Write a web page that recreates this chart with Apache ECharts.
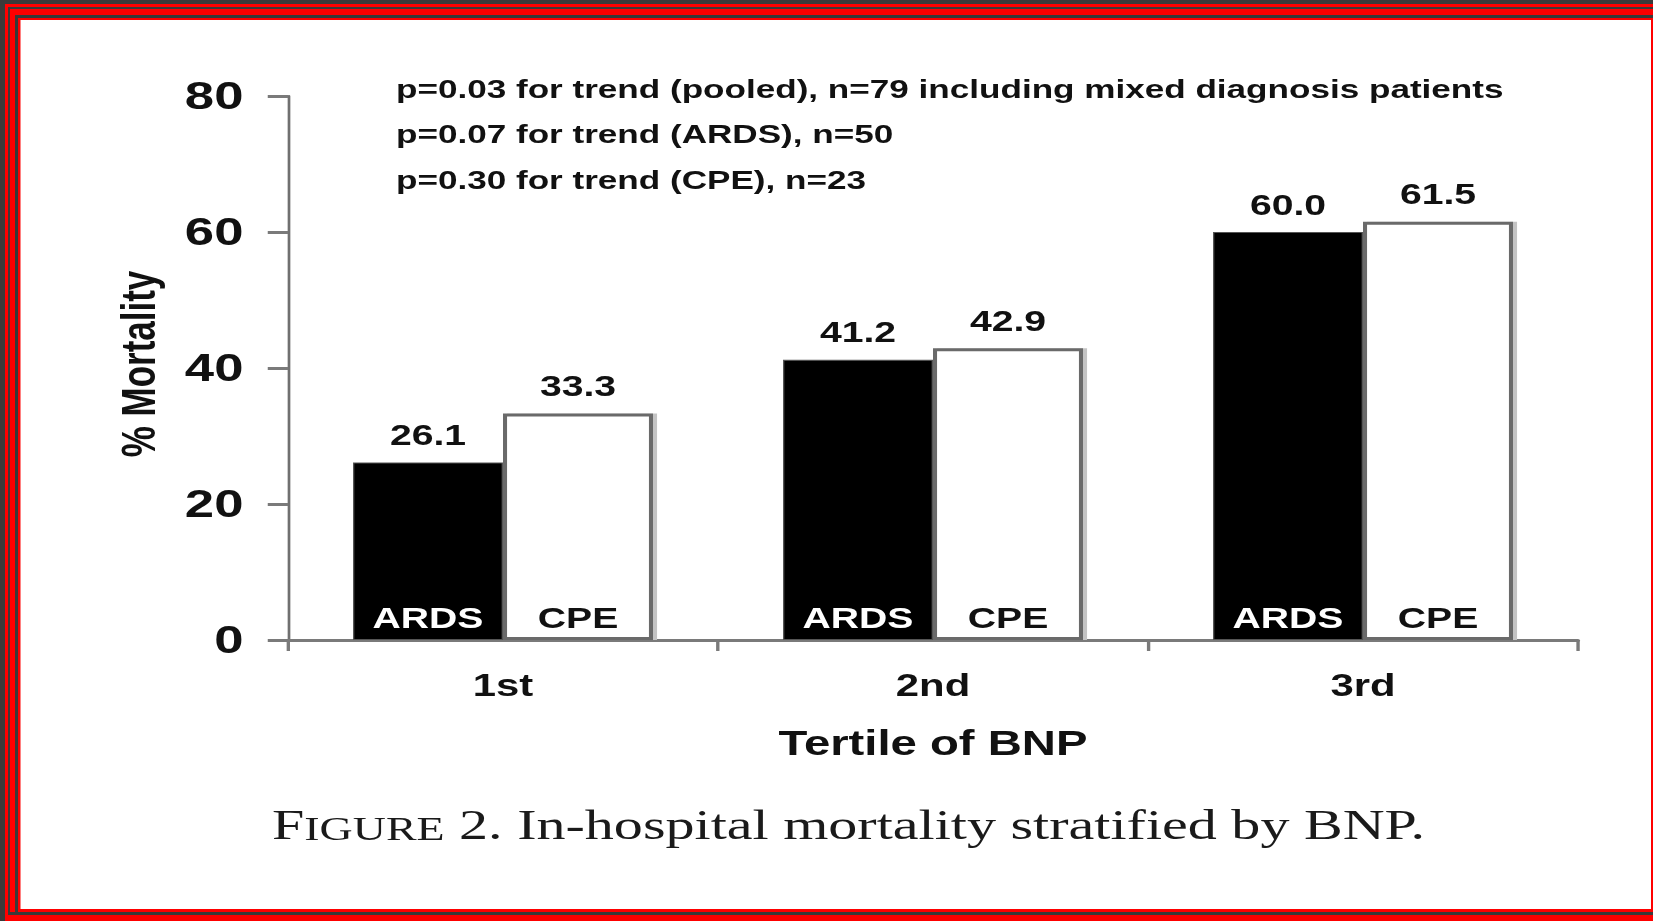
<!DOCTYPE html>
<html>
<head>
<meta charset="utf-8">
<script src="https://cdn.jsdelivr.net/npm/echarts@6/dist/echarts.min.js"></script>
<style>
  html, body { margin: 0; padding: 0; overflow: hidden; background: #fff; }
  #wrap { width: 1653px; height: 921px; overflow: hidden; position: relative; }
  #chart { width: 1224px; height: 921px; transform: scaleX(1.3504902); transform-origin: 0 0; }
</style>
</head>
<body>
<div id="wrap"><div id="chart"></div></div>
<script>
// ---- data ----
const categories = ['1st', '2nd', '3rd'];
const seriesNames = ['ARDS', 'CPE'];
const ardsValues = [26.1, 41.2, 60.0];
const cpeValues = [33.3, 42.9, 61.5];
const yTicks = { min: 0, max: 80, interval: 20 };
const xAxisTitle = 'Tertile of BNP';
const yAxisTitle = '% Mortality';
const annotationLines = [
  'p=0.03 for trend (pooled), n=79 including mixed diagnosis patients',
  'p=0.07 for trend (ARDS), n=50',
  'p=0.30 for trend (CPE), n=23'
];
const captionParts = ['F', 'IGURE', ' 2. In-hospital mortality stratified by BNP.'];

// ---- layout helpers (the original figure is stretched horizontally) ----
const W = 1224, H = 921;
const S = 1653 / W;
const X = v => v / S;
const SANS = "'Liberation Sans', Arial, sans-serif";
const SERIF = "'Liberation Serif', 'Times New Roman', serif";
const INK = '#111';

const chart = echarts.init(document.getElementById('chart'), null, { renderer: 'svg', width: W, height: H });

const barW = X(150);
const valueLabel = {
  show: true, position: 'top', distance: 13,
  formatter: p => Number(p.value).toFixed(1),
  fontFamily: SANS, fontSize: 29, fontWeight: 'bold', color: INK
};
function nameLabel(color) {
  return {
    show: true, position: 'insideBottom', distance: 8, formatter: '{a}',
    fontFamily: SANS, fontSize: 29, fontWeight: 'bold', color: color
  };
}

function rect(x1, y1, x2, y2, fill) {
  return { type: 'rect', silent: true, z: -10,
    shape: { x: X(x1), y: y1, width: X(x2 - x1), height: y2 - y1 },
    style: { fill: fill } };
}
const DARK = '#3a3a3a', RED = '#ff0000';
const border = [
  rect(0, 0, 1653, 921, DARK),
  rect(5, 4, 1653, 921, RED),
  rect(8, 7, 1653, 915, DARK),
  rect(10, 9, 1653, 912, RED),
  rect(15, 15, 1653, 912, DARK),
  rect(18, 18, 1653, 912, RED),
  rect(20.5, 20, 1651, 909, '#ffffff')
];

const annY = [89, 134, 180];
const annotations = annotationLines.map((t, i) => ({
  type: 'text', silent: true, z: 10, x: X(396), y: annY[i],
  style: { text: t, fontFamily: SANS, fontSize: 26, fontWeight: 'bold', fill: INK, verticalAlign: 'middle', align: 'left' }
}));

const caption = {
  type: 'text', silent: true, z: 10, x: X(272), y: 823,
  style: {
    text: '{big|' + captionParts[0] + '}{sc|' + captionParts[1] + '}{big|' + captionParts[2] + '}',
    fontFamily: SERIF, fontSize: 43, fill: '#1a1a1a', verticalAlign: 'middle', align: 'left',
    rich: {
      big: { fontFamily: SERIF, fontSize: 43, lineHeight: 46, verticalAlign: 'bottom', fill: '#1a1a1a' },
      sc: { fontFamily: SERIF, fontSize: 34, lineHeight: 46, verticalAlign: 'bottom', fill: '#1a1a1a' }
    }
  }
};

const option = {
  animation: false,
  backgroundColor: 'transparent',
  grid: { left: X(288), right: W - X(1578), top: 96, bottom: H - 640, containLabel: false },
  xAxis: [
    {
      type: 'category', data: categories, gridIndex: 0,
      axisLine: { show: true, lineStyle: { color: '#7a7a7a', width: 3 } },
      axisTick: { show: true, length: 11, interval: 0, lineStyle: { color: '#7a7a7a', width: 2.5 } },
      axisLabel: { margin: 30, fontFamily: SANS, fontSize: 31, fontWeight: 'bold', color: INK },
      name: xAxisTitle, nameLocation: 'middle', nameGap: 85,
      nameTextStyle: { fontFamily: SANS, fontSize: 35, fontWeight: 'bold', color: INK },
      splitLine: { show: false }
    },
    { type: 'category', data: categories, gridIndex: 0, show: false }
  ],
  yAxis: {
    type: 'value', min: yTicks.min, max: yTicks.max, interval: yTicks.interval,
    axisLine: { show: true, lineStyle: { color: '#707070', width: 2 } },
    axisTick: { show: true, length: 15, lineStyle: { color: '#7a7a7a', width: 3 } },
    splitLine: { show: false },
    axisLabel: { margin: 33, fontFamily: SANS, fontSize: 39, fontWeight: 'bold', color: INK },
    name: yAxisTitle, nameLocation: 'middle', nameRotate: 90, nameGap: 93,
    nameTextStyle: { fontFamily: SANS, fontSize: 35, fontWeight: 'bold', color: INK, padding: [0, 0, 0, 8] }
  },
  series: [
    {
      name: seriesNames[0], type: 'bar', xAxisIndex: 0, data: ardsValues,
      barWidth: barW, barGap: '0%',
      itemStyle: { color: '#000', borderColor: '#555', borderWidth: 1 },
      label: valueLabel
    },
    {
      name: seriesNames[1], type: 'bar', xAxisIndex: 0, data: cpeValues,
      barWidth: barW, barGap: '0%',
      itemStyle: { color: '#fff', borderColor: '#6a6a6a', borderWidth: 3,
        shadowColor: '#c4c4c4', shadowOffsetX: 3, shadowOffsetY: 0, shadowBlur: 0 },
      label: valueLabel
    },
    {
      name: seriesNames[0], type: 'bar', xAxisIndex: 1, data: ardsValues,
      barWidth: barW, barGap: '0%', silent: true, z: 3,
      itemStyle: { color: 'rgba(0,0,0,0)' },
      label: nameLabel('#fff')
    },
    {
      name: seriesNames[1], type: 'bar', xAxisIndex: 1, data: cpeValues,
      barWidth: barW, barGap: '0%', silent: true, z: 3,
      itemStyle: { color: 'rgba(0,0,0,0)' },
      label: nameLabel(INK)
    }
  ],
  graphic: { elements: border.concat(annotations, [caption]) }
};
chart.setOption(option);
</script>
</body>
</html>
